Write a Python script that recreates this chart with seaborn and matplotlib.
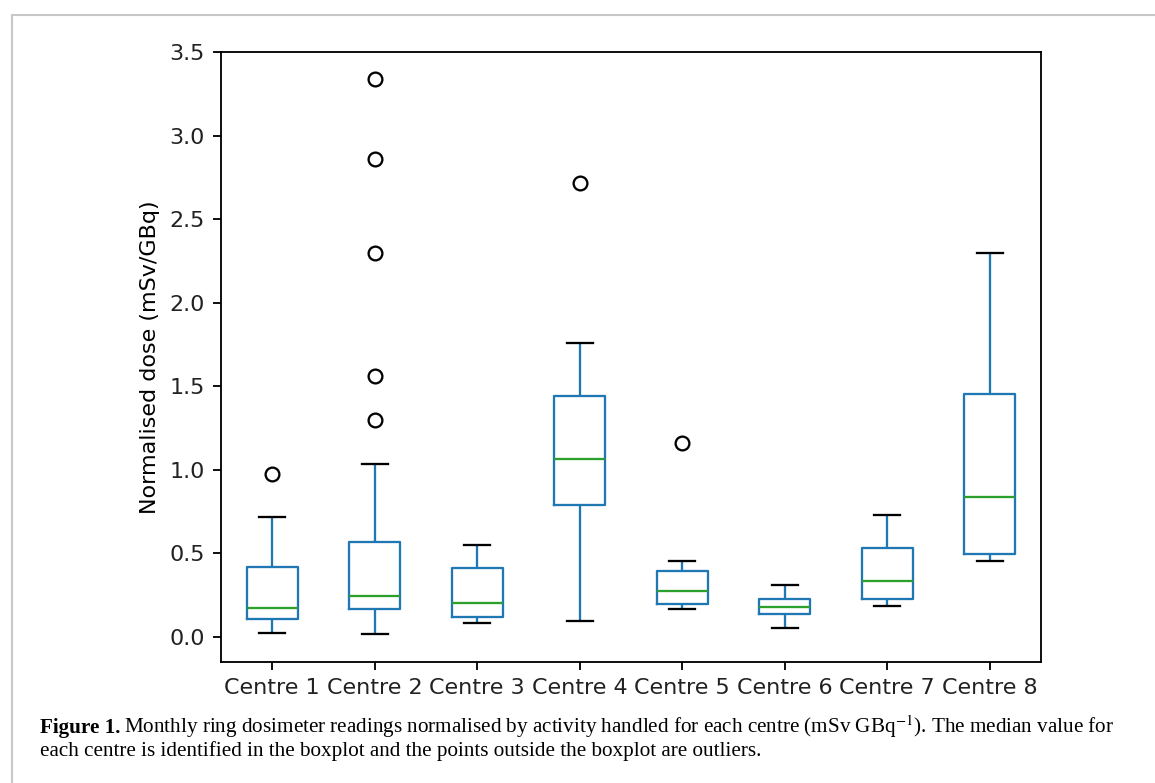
import pandas as pd
import seaborn as sns
import matplotlib.pyplot as plt
from matplotlib.lines import Line2D

# five-number summaries (whisker ends, quartiles, median)
centres = ['Centre 1', 'Centre 2', 'Centre 3', 'Centre 4',
           'Centre 5', 'Centre 6', 'Centre 7', 'Centre 8']
whisker_low = [0.026, 0.016, 0.086, 0.096, 0.166, 0.056, 0.186, 0.455]
q1 = [0.106, 0.166, 0.118, 0.790, 0.200, 0.136, 0.225, 0.495]
median = [0.175, 0.245, 0.205, 1.067, 0.275, 0.178, 0.335, 0.840]
q3 = [0.420, 0.570, 0.410, 1.440, 0.395, 0.225, 0.530, 1.452]
whisker_high = [0.720, 1.035, 0.550, 1.760, 0.453, 0.313, 0.730, 2.300]

# outliers
outlier_centre = ['Centre 1', 'Centre 2', 'Centre 2', 'Centre 2', 'Centre 2',
                  'Centre 2', 'Centre 4', 'Centre 5']
outlier_value = [0.975, 3.34, 2.86, 2.30, 1.56, 1.30, 2.717, 1.163]

rows = []
for i, c in enumerate(centres):
    for v in (whisker_low[i], q1[i], median[i], q3[i], whisker_high[i]):
        rows.append([c, v])
box_df = pd.DataFrame(rows, columns=['centre', 'dose'])
out_df = pd.DataFrame({'centre': outlier_centre, 'dose': outlier_value})

s = 1.65  # the chart was rendered larger than default
plt.rcParams['mathtext.fontset'] = 'stix'

fig = plt.figure(figsize=(11.55, 7.83), dpi=100)
ax = fig.add_axes([221 / 1155, 1 - 662 / 783, 820 / 1155, 610 / 783])

sns.boxplot(data=box_df, x='centre', y='dose', order=centres, whis=(0, 100),
            width=0.5, fill=False, color='#1f77b4', linecolor='#1f77b4',
            linewidth=1.0 * s, medianprops={'color': '#2ca02c'},
            capprops={'color': 'k'}, ax=ax)
sns.stripplot(data=out_df, x='centre', y='dose', order=centres, jitter=False,
              color='white', edgecolor='black', linewidth=1.0 * s,
              size=6 * s, ax=ax, zorder=3)

ax.set_xlim(-0.5, 7.5)
ax.set_ylim(-0.15, 3.5)
ax.set_yticks([0.0, 0.5, 1.0, 1.5, 2.0, 2.5, 3.0, 3.5])
ax.set_yticklabels(['0.0', '0.5', '1.0', '1.5', '2.0', '2.5', '3.0', '3.5'])
ax.set_xlabel('')
ax.set_ylabel('Normalised dose (mSv/GBq)', fontsize=16, labelpad=4 * s)
ax.tick_params(labelsize=16, length=3.5 * s, width=0.8 * s, pad=3.5 * s,
               labelcolor='#222222')
for sp in ax.spines.values():
    sp.set_linewidth(0.8 * s)

# page frame
fig.add_artist(Line2D([12 / 1155, 1], [1 - 15 / 783, 1 - 15 / 783],
                      transform=fig.transFigure, color='#c8c8c8', lw=1.5))
fig.add_artist(Line2D([12 / 1155, 12 / 1155], [0, 1 - 15 / 783],
                      transform=fig.transFigure, color='#c8c8c8', lw=1.5))

# caption
cap_fs = 15.2
t1 = fig.text(40 / 1155, 1 - 733 / 783, 'Figure 1.', fontsize=cap_fs,
              family='Liberation Serif', weight='bold', va='baseline')
fig.canvas.draw()
bb = t1.get_window_extent()
fig.text(bb.x1 / 1155 + 4 / 1155, 1 - 733 / 783,
         'Monthly ring dosimeter readings normalised by activity handled for each centre '
         r'(mSv GBq$^{-1}$). The median value for',
         fontsize=cap_fs, family='Liberation Serif', va='baseline')
fig.text(40 / 1155, 1 - 756 / 783,
         'each centre is identified in the boxplot and the points outside the boxplot are outliers.',
         fontsize=cap_fs, family='Liberation Serif', va='baseline')

fig.savefig('out.png', dpi=100)
